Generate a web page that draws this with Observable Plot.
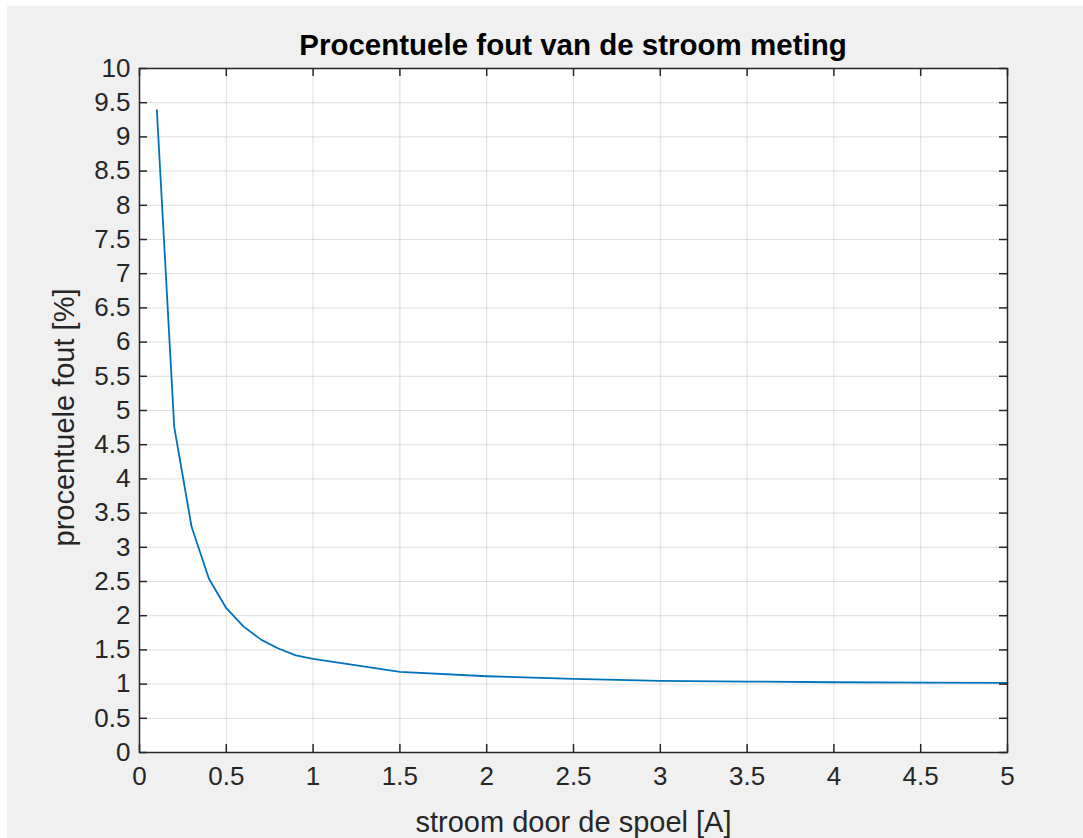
<!DOCTYPE html>
<html>
<head>
<meta charset="utf-8">
<script src="https://cdn.jsdelivr.net/npm/d3@7"></script>
<script src="https://cdn.jsdelivr.net/npm/@observablehq/plot@0.6"></script>
<style>
  html, body { margin: 0; padding: 0; background: #ffffff; }
  #wrap { position: relative; width: 1083px; height: 838px; overflow: hidden; }
  #panel { position: absolute; left: 7px; top: 6px; right: 0; bottom: 0; background: #f0f0f0; }
  #title { position: absolute; left: 139px; width: 868px; top: 30px; text-align: center; z-index: 2;
           font: bold 29.5px Arial, "Liberation Sans", sans-serif; line-height: 29px; color: #000; white-space: nowrap; }
  #chart { position: absolute; left: 0; top: 44px; z-index: 1; }
</style>
</head>
<body>
<div id="wrap">
  <div id="panel"></div>
  <div id="title">Procentuele fout van de stroom meting</div>
  <div id="chart"></div>
</div>
<script>
// ---- data ----
const current = [0.1, 0.2, 0.3, 0.4, 0.5, 0.6, 0.7, 0.8, 0.9, 1.0, 1.5, 2.0, 2.5, 3.0, 3.5, 4.0, 4.5, 5.0];
const errorPct = [9.39, 4.76, 3.30, 2.54, 2.11, 1.84, 1.65, 1.52, 1.42, 1.37, 1.18, 1.115, 1.075, 1.046, 1.037, 1.027, 1.022, 1.017];
const xTicks = [0, 0.5, 1, 1.5, 2, 2.5, 3, 3.5, 4, 4.5, 5];
const yTicks = [0, 0.5, 1, 1.5, 2, 2.5, 3, 3.5, 4, 4.5, 5, 5.5, 6, 6.5, 7, 7.5, 8, 8.5, 9, 9.5, 10];
const xLabel = "stroom door de spoel [A]";
const yLabel = "procentuele fout [%]";

const data = current.map((x, i) => ({x, y: errorPct[i]}));

const W = 1083, H = 794;
const mL = 139, mR = 76, mT = 24, mB = 86;
const pw = W - mL - mR, ph = H - mT - mB;
const axisColor = "#262626";
const tickLen = 8;

const chart = Plot.plot({
  width: W,
  height: H,
  marginLeft: mL,
  marginRight: mR,
  marginTop: mT,
  marginBottom: mB,
  style: {background: "transparent", color: axisColor, fontFamily: "Arial, 'Liberation Sans', sans-serif"},
  x: {domain: [0, 5]},
  y: {domain: [0, 10]},
  marks: [
    Plot.frame({fill: "white", stroke: "none"}),
    Plot.gridX(xTicks, {stroke: axisColor, strokeOpacity: 0.15, strokeWidth: 1}),
    Plot.gridY(yTicks, {stroke: axisColor, strokeOpacity: 0.15, strokeWidth: 1}),
    Plot.line(data, {x: "x", y: "y", stroke: "#0072bd", strokeWidth: 1.8}),
    // inward ticks on all four sides
    Plot.tickX(xTicks, {x: d => d, insetTop: ph - tickLen, stroke: axisColor, strokeWidth: 1.5}),
    Plot.tickX(xTicks, {x: d => d, insetBottom: ph - tickLen, stroke: axisColor, strokeWidth: 1.5}),
    Plot.tickY(yTicks, {y: d => d, insetRight: pw - tickLen, stroke: axisColor, strokeWidth: 1.5}),
    Plot.tickY(yTicks, {y: d => d, insetLeft: pw - tickLen, stroke: axisColor, strokeWidth: 1.5}),
    Plot.frame({stroke: axisColor, strokeWidth: 1.5}),
    Plot.axisX(xTicks, {tickSize: 0, tickPadding: 14, fontSize: 26, label: null, tickFormat: d => String(d), fill: axisColor}),
    Plot.axisY(yTicks, {tickSize: 0, tickPadding: 9, fontSize: 26, label: null, tickFormat: d => String(d), fill: axisColor}),
    Plot.text([xLabel], {text: d => d, frameAnchor: "bottom", textAnchor: "middle", lineAnchor: "bottom", dy: 79, fontSize: 29, fill: axisColor}),
    Plot.text([yLabel], {text: d => d, frameAnchor: "left", textAnchor: "middle", lineAnchor: "bottom", rotate: -90, dx: -66, dy: 7, fontSize: 29, fill: axisColor})
  ]
});
document.getElementById("chart").appendChild(chart);
</script>
</body>
</html>
